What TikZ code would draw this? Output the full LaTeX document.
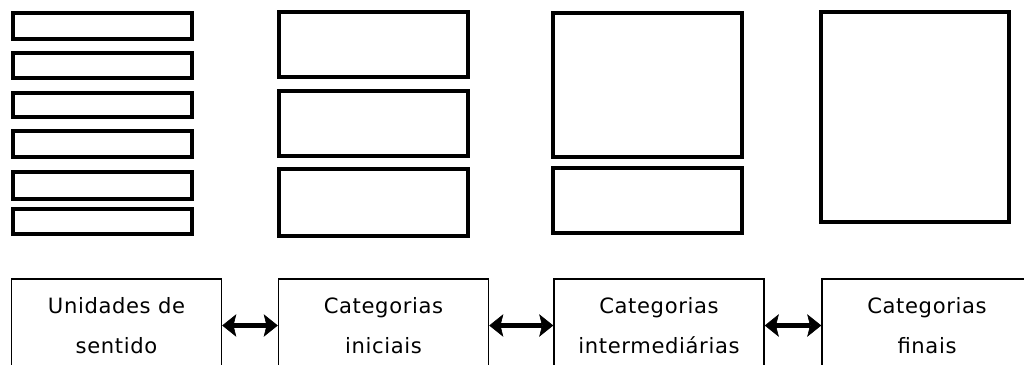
\documentclass[tikz,border=0pt]{standalone}
\usepackage{fontspec}
\setmainfont[LetterSpace=3]{DejaVu Sans}
\usetikzlibrary{arrows.meta}

\begin{document}
\begin{tikzpicture}[x=0.025cm, y=-0.025cm,
	bloco/.style={line width=2.7pt},
	etapa/.style={draw, line width=1pt, minimum width=5.25cm, minimum height=2.325cm, inner sep=0pt, align=center, font=\fontsize{15}{28}\selectfont},
	elo/.style={line width=4.2pt, {Stealth[length=10pt,width=16pt,inset=2pt,line width=0.4pt]}-{Stealth[length=10pt,width=16pt,inset=2pt,line width=0.4pt]}}]
	\useasboundingbox (0,0) rectangle (1024,364);
	\fill [white] (0,0) rectangle (1024,364);
	% unidades de sentido
	\draw [bloco] (13,13) rectangle (192,39);
	\draw [bloco] (13,53) rectangle (192,78);
	\draw [bloco] (13,93) rectangle (192,117);
	\draw [bloco] (13,131) rectangle (192,157);
	\draw [bloco] (13,172) rectangle (192,199);
	\draw [bloco] (13,209) rectangle (192,234);
	% categorias iniciais
	\draw [bloco] (279,12) rectangle (468,77);
	\draw [bloco] (279,91) rectangle (468,156);
	\draw [bloco] (279,169) rectangle (468,236);
	% categorias intermediarias
	\draw [bloco] (553,13) rectangle (742,157);
	\draw [bloco] (553,168) rectangle (742,233);
	% categorias finais
	\draw [bloco] (821,12) rectangle (1009,222);
	% etapas
	\node [etapa] (unid) at (116.5,325.5) {Unidades de\\sentido};
	\node [etapa] (inic) at (383.5,325.5) {Categorias\\iniciais};
	\node [etapa] (inter) at (659,325.5) {Categorias\\intermediárias};
	\node [etapa] (fin) at (927,325.5) {Categorias\\finais};
	\draw [elo] (unid) -- (inic);
	\draw [elo] (inic) -- (inter);
	\draw [elo] (inter) -- (fin);
\end{tikzpicture}
\end{document}
